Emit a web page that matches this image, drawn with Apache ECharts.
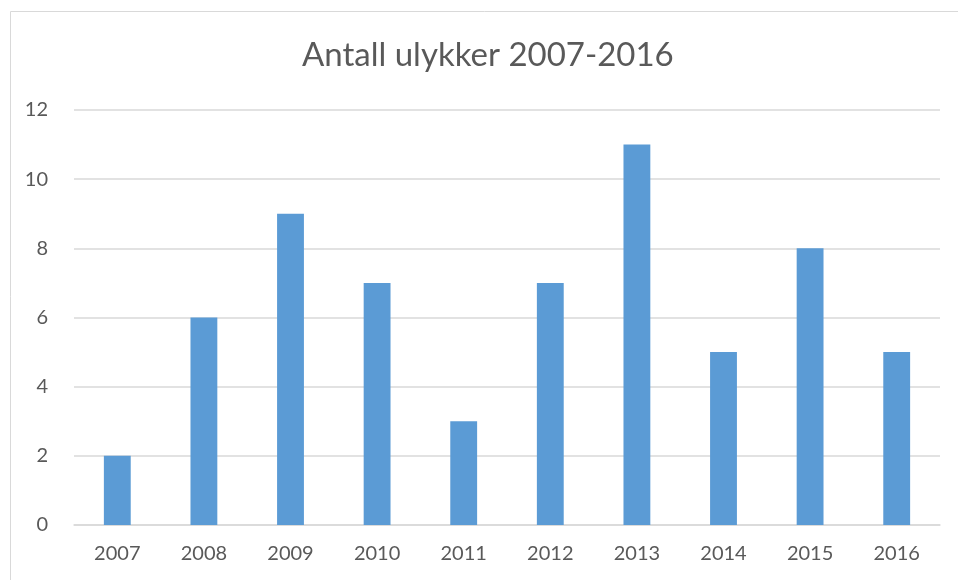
<!DOCTYPE html>
<html><head><meta charset="utf-8">
<script src="https://cdn.jsdelivr.net/npm/echarts@6/dist/echarts.min.js"></script>
<style>html,body{margin:0;padding:0;background:#fff}#c{width:958px;height:580px}</style>
</head><body><div id="c"></div>
<script>
const categories = ['2007','2008','2009','2010','2011','2012','2013','2014','2015','2016'];
const values = [2,6,9,7,3,7,11,5,8,5];
const yTicks = [0,2,4,6,8,10,12];
const chart = echarts.init(document.getElementById('c'));
chart.setOption({
  animation:false,
  title:{text:'Antall ulykker 2007-2016',left:302,top:39,padding:0,textStyle:{fontFamily:'Lato',fontSize:33,fontWeight:'normal',color:'#595959'}},
  graphic:[{type:'rect',shape:{x:10.5,y:11.5,width:980,height:600},style:{fill:'none',stroke:'#d9d9d9',lineWidth:1},silent:true}],
  grid:{left:74,right:18,top:110,bottom:55},
  xAxis:{type:'category',data:categories,axisTick:{show:false},axisLine:{lineStyle:{color:'#d9d9d9',width:1.5}},
    axisLabel:{fontFamily:'Lato',fontSize:20,color:'#595959',margin:19}},
  yAxis:{type:'value',min:yTicks[0],max:yTicks[yTicks.length-1],interval:2,axisLine:{show:false},axisTick:{show:false},
    splitLine:{lineStyle:{color:'#d9d9d9',width:1.5}},axisLabel:{fontFamily:'Lato',fontSize:20,color:'#595959',margin:26}},
  series:[{type:'bar',data:values,barWidth:'31%',itemStyle:{color:'#5b9bd5'}}]
});
</script></body></html>
